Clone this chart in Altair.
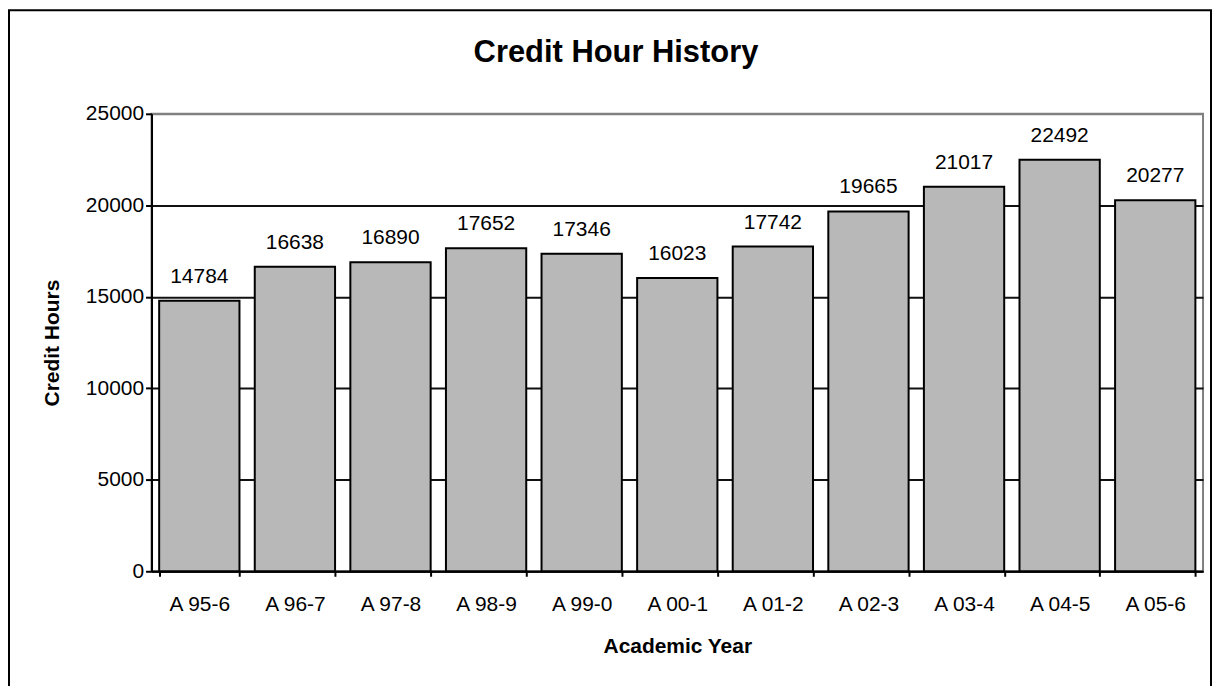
import altair as alt
import pandas as pd

years = ["A 95-6", "A 96-7", "A 97-8", "A 98-9", "A 99-0", "A 00-1",
         "A 01-2", "A 02-3", "A 03-4", "A 04-5", "A 05-6"]
hours = [14784, 16638, 16890, 17652, 17346, 16023, 17742, 19665, 21017, 22492, 20277]
y_ticks = [0, 5000, 10000, 15000, 20000, 25000]

df = pd.DataFrame({"year": years, "hours": hours})
one = pd.DataFrame({"k": [0]})

FONT = "Liberation Sans"
W, H = 1055, 459

x = alt.X(
    "year:N", sort=years,
    scale=alt.Scale(paddingInner=0.16, paddingOuter=0.08),
    axis=alt.Axis(title="Academic Year", labelAngle=0, tickBand="extent",
                  tickSize=5, labelPadding=17, titlePadding=21,
                  domainColor="black", domainWidth=2, tickColor="black",
                  tickWidth=2, grid=False),
)
y = alt.Y(
    "hours:Q",
    scale=alt.Scale(domain=[0, 25000], nice=False),
    axis=alt.Axis(title="Credit Hours", values=y_ticks, format="d",
                  tickSize=6, labelPadding=2, titlePadding=23,
                  domainColor="black", domainWidth=2, tickColor="black",
                  tickWidth=2, grid=True,
                  gridColor={"condition": {"test": "datum.value === 25000", "value": "#808080"},
                             "value": "#111111"},
                  gridWidth=2),
)

bars = alt.Chart(df).mark_bar(fill="#b8b8b8", stroke="black", strokeWidth=2).encode(x=x, y=y)

labels = alt.Chart(df).mark_text(
    baseline="alphabetic", dy=-18, fontSize=21, font=FONT, color="black"
).encode(x=x, y=y, text=alt.Text("hours:Q", format="d"))

border = alt.Chart(one).mark_rect(
    fill="white", fillOpacity=0, stroke="black", strokeWidth=2
).encode(x=alt.value(-143), x2=alt.value(1063), y=alt.value(-104), y2=alt.value(620))

title = alt.Chart(one).mark_text(
    text="Credit Hour History", fontSize=31, fontWeight="bold", font=FONT,
    color="black", align="center", baseline="alphabetic"
).encode(x=alt.value(466), y=alt.value(-52))

chart = alt.layer(border, bars, labels, title).properties(
    width=W, height=H,
    padding={"left": 144, "top": 105, "right": 10, "bottom": 130},
    autosize=alt.AutoSizeParams(type="none"),
).configure_view(
    stroke="#808080", strokeWidth=2
).configure_axis(
    labelFont=FONT, labelFontSize=21, labelColor="black",
    titleFont=FONT, titleFontSize=21, titleFontWeight="bold", titleColor="black",
)

chart.save("out.html", embed_options={"renderer": "svg", "actions": False})
